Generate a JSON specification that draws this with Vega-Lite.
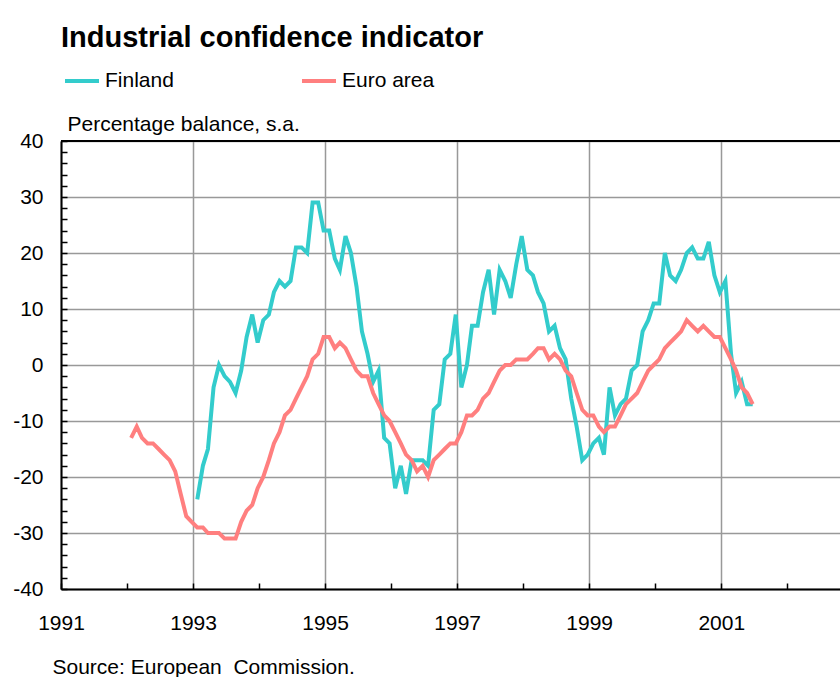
{
"$schema": "https://vega.github.io/schema/vega-lite/v6.json",
"width": 779, "height": 448,
"autosize": {"type": "none"},
"padding": {"left": 61, "top": 141, "right": 0, "bottom": 88},
"background": "white",
"config": {"view": {"stroke": null}, "font": "Liberation Sans"},
"title": {"text": "Industrial confidence indicator", "anchor": "start", "frame": "group", "fontSize": 29, "fontWeight": "bold", "font": "Liberation Sans", "color": "black", "baseline": "alphabetic", "offset": -14, "dx": 0},
"resolve": {"axis": {"y": "independent"}},
"data": {"values": [
{"d":"1993-01-24","s":"Finland","v":-24},{"d":"1993-02-24","s":"Finland","v":-18},{"d":"1993-03-24","s":"Finland","v":-15},{"d":"1993-04-24","s":"Finland","v":-4},{"d":"1993-05-24","s":"Finland","v":0},{"d":"1993-06-24","s":"Finland","v":-2},{"d":"1993-07-24","s":"Finland","v":-3},{"d":"1993-08-24","s":"Finland","v":-5},{"d":"1993-09-24","s":"Finland","v":-1},{"d":"1993-10-24","s":"Finland","v":5},{"d":"1993-11-24","s":"Finland","v":9},{"d":"1993-12-24","s":"Finland","v":4},
{"d":"1994-01-24","s":"Finland","v":8},{"d":"1994-02-24","s":"Finland","v":9},{"d":"1994-03-24","s":"Finland","v":13},{"d":"1994-04-24","s":"Finland","v":15},{"d":"1994-05-24","s":"Finland","v":14},{"d":"1994-06-24","s":"Finland","v":15},{"d":"1994-07-24","s":"Finland","v":21},{"d":"1994-08-24","s":"Finland","v":21},{"d":"1994-09-24","s":"Finland","v":20},{"d":"1994-10-24","s":"Finland","v":29},{"d":"1994-11-24","s":"Finland","v":29},{"d":"1994-12-24","s":"Finland","v":24},
{"d":"1995-01-24","s":"Finland","v":24},{"d":"1995-02-24","s":"Finland","v":19},{"d":"1995-03-24","s":"Finland","v":17},{"d":"1995-04-24","s":"Finland","v":23},{"d":"1995-05-24","s":"Finland","v":20},{"d":"1995-06-24","s":"Finland","v":14},{"d":"1995-07-24","s":"Finland","v":6},{"d":"1995-08-24","s":"Finland","v":2},{"d":"1995-09-24","s":"Finland","v":-3},{"d":"1995-10-24","s":"Finland","v":-1},{"d":"1995-11-24","s":"Finland","v":-13},{"d":"1995-12-24","s":"Finland","v":-14},
{"d":"1996-01-24","s":"Finland","v":-22},{"d":"1996-02-24","s":"Finland","v":-18},{"d":"1996-03-24","s":"Finland","v":-23},{"d":"1996-04-24","s":"Finland","v":-17},{"d":"1996-05-24","s":"Finland","v":-17},{"d":"1996-06-24","s":"Finland","v":-17},{"d":"1996-07-24","s":"Finland","v":-18},{"d":"1996-08-24","s":"Finland","v":-8},{"d":"1996-09-24","s":"Finland","v":-7},{"d":"1996-10-24","s":"Finland","v":1},{"d":"1996-11-24","s":"Finland","v":2},{"d":"1996-12-24","s":"Finland","v":9},
{"d":"1997-01-24","s":"Finland","v":-4},{"d":"1997-02-24","s":"Finland","v":0},{"d":"1997-03-24","s":"Finland","v":7},{"d":"1997-04-24","s":"Finland","v":7},{"d":"1997-05-24","s":"Finland","v":13},{"d":"1997-06-24","s":"Finland","v":17},{"d":"1997-07-24","s":"Finland","v":9},{"d":"1997-08-24","s":"Finland","v":17},{"d":"1997-09-24","s":"Finland","v":15},{"d":"1997-10-24","s":"Finland","v":12},{"d":"1997-11-24","s":"Finland","v":18},{"d":"1997-12-24","s":"Finland","v":23},
{"d":"1998-01-24","s":"Finland","v":17},{"d":"1998-02-24","s":"Finland","v":16},{"d":"1998-03-24","s":"Finland","v":13},{"d":"1998-04-24","s":"Finland","v":11},{"d":"1998-05-24","s":"Finland","v":6},{"d":"1998-06-24","s":"Finland","v":7},{"d":"1998-07-24","s":"Finland","v":3},{"d":"1998-08-24","s":"Finland","v":1},{"d":"1998-09-24","s":"Finland","v":-6},{"d":"1998-10-24","s":"Finland","v":-11},{"d":"1998-11-24","s":"Finland","v":-17},{"d":"1998-12-24","s":"Finland","v":-16},
{"d":"1999-01-24","s":"Finland","v":-14},{"d":"1999-02-24","s":"Finland","v":-13},{"d":"1999-03-24","s":"Finland","v":-16},{"d":"1999-04-24","s":"Finland","v":-4},{"d":"1999-05-24","s":"Finland","v":-9},{"d":"1999-06-24","s":"Finland","v":-7},{"d":"1999-07-24","s":"Finland","v":-6},{"d":"1999-08-24","s":"Finland","v":-1},{"d":"1999-09-24","s":"Finland","v":0},{"d":"1999-10-24","s":"Finland","v":6},{"d":"1999-11-24","s":"Finland","v":8},{"d":"1999-12-24","s":"Finland","v":11},
{"d":"2000-01-24","s":"Finland","v":11},{"d":"2000-02-24","s":"Finland","v":20},{"d":"2000-03-24","s":"Finland","v":16},{"d":"2000-04-24","s":"Finland","v":15},{"d":"2000-05-24","s":"Finland","v":17},{"d":"2000-06-24","s":"Finland","v":20},{"d":"2000-07-24","s":"Finland","v":21},{"d":"2000-08-24","s":"Finland","v":19},{"d":"2000-09-24","s":"Finland","v":19},{"d":"2000-10-24","s":"Finland","v":22},{"d":"2000-11-24","s":"Finland","v":16},{"d":"2000-12-24","s":"Finland","v":13},
{"d":"2001-01-24","s":"Finland","v":15},{"d":"2001-02-24","s":"Finland","v":2},{"d":"2001-03-24","s":"Finland","v":-5},{"d":"2001-04-24","s":"Finland","v":-3},{"d":"2001-05-24","s":"Finland","v":-7},{"d":"2001-06-24","s":"Finland","v":-7},
{"d":"1992-01-24","s":"Euro area","v":-13},{"d":"1992-02-24","s":"Euro area","v":-11},{"d":"1992-03-24","s":"Euro area","v":-13},{"d":"1992-04-24","s":"Euro area","v":-14},{"d":"1992-05-24","s":"Euro area","v":-14},{"d":"1992-06-24","s":"Euro area","v":-15},{"d":"1992-07-24","s":"Euro area","v":-16},{"d":"1992-08-24","s":"Euro area","v":-17},{"d":"1992-09-24","s":"Euro area","v":-19},{"d":"1992-10-24","s":"Euro area","v":-23},{"d":"1992-11-24","s":"Euro area","v":-27},{"d":"1992-12-24","s":"Euro area","v":-28},
{"d":"1993-01-24","s":"Euro area","v":-29},{"d":"1993-02-24","s":"Euro area","v":-29},{"d":"1993-03-24","s":"Euro area","v":-30},{"d":"1993-04-24","s":"Euro area","v":-30},{"d":"1993-05-24","s":"Euro area","v":-30},{"d":"1993-06-24","s":"Euro area","v":-31},{"d":"1993-07-24","s":"Euro area","v":-31},{"d":"1993-08-24","s":"Euro area","v":-31},{"d":"1993-09-24","s":"Euro area","v":-28},{"d":"1993-10-24","s":"Euro area","v":-26},{"d":"1993-11-24","s":"Euro area","v":-25},{"d":"1993-12-24","s":"Euro area","v":-22},
{"d":"1994-01-24","s":"Euro area","v":-20},{"d":"1994-02-24","s":"Euro area","v":-17},{"d":"1994-03-24","s":"Euro area","v":-14},{"d":"1994-04-24","s":"Euro area","v":-12},{"d":"1994-05-24","s":"Euro area","v":-9},{"d":"1994-06-24","s":"Euro area","v":-8},{"d":"1994-07-24","s":"Euro area","v":-6},{"d":"1994-08-24","s":"Euro area","v":-4},{"d":"1994-09-24","s":"Euro area","v":-2},{"d":"1994-10-24","s":"Euro area","v":1},{"d":"1994-11-24","s":"Euro area","v":2},{"d":"1994-12-24","s":"Euro area","v":5},
{"d":"1995-01-24","s":"Euro area","v":5},{"d":"1995-02-24","s":"Euro area","v":3},{"d":"1995-03-24","s":"Euro area","v":4},{"d":"1995-04-24","s":"Euro area","v":3},{"d":"1995-05-24","s":"Euro area","v":1},{"d":"1995-06-24","s":"Euro area","v":-1},{"d":"1995-07-24","s":"Euro area","v":-2},{"d":"1995-08-24","s":"Euro area","v":-2},{"d":"1995-09-24","s":"Euro area","v":-5},{"d":"1995-10-24","s":"Euro area","v":-7},{"d":"1995-11-24","s":"Euro area","v":-9},{"d":"1995-12-24","s":"Euro area","v":-10},
{"d":"1996-01-24","s":"Euro area","v":-12},{"d":"1996-02-24","s":"Euro area","v":-14},{"d":"1996-03-24","s":"Euro area","v":-16},{"d":"1996-04-24","s":"Euro area","v":-17},{"d":"1996-05-24","s":"Euro area","v":-19},{"d":"1996-06-24","s":"Euro area","v":-18},{"d":"1996-07-24","s":"Euro area","v":-20},{"d":"1996-08-24","s":"Euro area","v":-17},{"d":"1996-09-24","s":"Euro area","v":-16},{"d":"1996-10-24","s":"Euro area","v":-15},{"d":"1996-11-24","s":"Euro area","v":-14},{"d":"1996-12-24","s":"Euro area","v":-14},
{"d":"1997-01-24","s":"Euro area","v":-12},{"d":"1997-02-24","s":"Euro area","v":-9},{"d":"1997-03-24","s":"Euro area","v":-9},{"d":"1997-04-24","s":"Euro area","v":-8},{"d":"1997-05-24","s":"Euro area","v":-6},{"d":"1997-06-24","s":"Euro area","v":-5},{"d":"1997-07-24","s":"Euro area","v":-3},{"d":"1997-08-24","s":"Euro area","v":-1},{"d":"1997-09-24","s":"Euro area","v":0},{"d":"1997-10-24","s":"Euro area","v":0},{"d":"1997-11-24","s":"Euro area","v":1},{"d":"1997-12-24","s":"Euro area","v":1},
{"d":"1998-01-24","s":"Euro area","v":1},{"d":"1998-02-24","s":"Euro area","v":2},{"d":"1998-03-24","s":"Euro area","v":3},{"d":"1998-04-24","s":"Euro area","v":3},{"d":"1998-05-24","s":"Euro area","v":1},{"d":"1998-06-24","s":"Euro area","v":2},{"d":"1998-07-24","s":"Euro area","v":1},{"d":"1998-08-24","s":"Euro area","v":-1},{"d":"1998-09-24","s":"Euro area","v":-2},{"d":"1998-10-24","s":"Euro area","v":-5},{"d":"1998-11-24","s":"Euro area","v":-8},{"d":"1998-12-24","s":"Euro area","v":-9},
{"d":"1999-01-24","s":"Euro area","v":-9},{"d":"1999-02-24","s":"Euro area","v":-11},{"d":"1999-03-24","s":"Euro area","v":-12},{"d":"1999-04-24","s":"Euro area","v":-11},{"d":"1999-05-24","s":"Euro area","v":-11},{"d":"1999-06-24","s":"Euro area","v":-9},{"d":"1999-07-24","s":"Euro area","v":-7},{"d":"1999-08-24","s":"Euro area","v":-6},{"d":"1999-09-24","s":"Euro area","v":-5},{"d":"1999-10-24","s":"Euro area","v":-3},{"d":"1999-11-24","s":"Euro area","v":-1},{"d":"1999-12-24","s":"Euro area","v":0},
{"d":"2000-01-24","s":"Euro area","v":1},{"d":"2000-02-24","s":"Euro area","v":3},{"d":"2000-03-24","s":"Euro area","v":4},{"d":"2000-04-24","s":"Euro area","v":5},{"d":"2000-05-24","s":"Euro area","v":6},{"d":"2000-06-24","s":"Euro area","v":8},{"d":"2000-07-24","s":"Euro area","v":7},{"d":"2000-08-24","s":"Euro area","v":6},{"d":"2000-09-24","s":"Euro area","v":7},{"d":"2000-10-24","s":"Euro area","v":6},{"d":"2000-11-24","s":"Euro area","v":5},{"d":"2000-12-24","s":"Euro area","v":5},
{"d":"2001-01-24","s":"Euro area","v":3},{"d":"2001-02-24","s":"Euro area","v":1},{"d":"2001-03-24","s":"Euro area","v":-1},{"d":"2001-04-24","s":"Euro area","v":-4},{"d":"2001-05-24","s":"Euro area","v":-5},{"d":"2001-06-24","s":"Euro area","v":-7}
]},
"layer": [
{"mark": {"type": "line", "strokeWidth": 4},
 "encoding": {
  "x": {"field": "d", "type": "temporal",
    "scale": {"type": "utc", "domain": [{"year": 1991, "month": 1, "date": 1, "utc": true}, {"year": 2002, "month": 10, "date": 20, "utc": true}]},
    "axis": {"title": "Source: European \u00a0Commission.", "titleFontSize": 21, "titleFontWeight": "normal", "titleColor": "black", "titleAnchor": "start", "titleAlign": "left", "titleBaseline": "alphabetic", "titleX": -9, "titleY": 84,
      "tickCount": {"interval": "year", "step": 1},
      "labelExpr": "utcyear(datum.value) % 2 == 1 ? utcFormat(datum.value, '%Y') : ''",
      "labelFlush": false, "labelOverlap": false, "labelBound": false, "labelFontSize": 21, "labelColor": "black", "labelDx": 17, "labelAlign": "center", "labelBaseline": "alphabetic", "labelPadding": 46,
      "tickSize": -6, "tickColor": "black", "tickWidth": 1.5, "domainColor": "black", "domainWidth": 2,
      "grid": true, "gridColor": "#999999", "gridWidth": 1.5,
      "gridOpacity": {"condition": {"test": "utcyear(datum.value) % 2 == 1", "value": 1}, "value": 0}}},
  "y": {"field": "v", "type": "quantitative",
    "scale": {"domain": [-40, 40], "nice": false, "zero": false},
    "axis": {"title": "Percentage balance, s.a.", "titleAngle": 0, "titleAlign": "left", "titleBaseline": "alphabetic", "titleX": 6, "titleY": -11, "titleFontSize": 21, "titleFontWeight": "normal", "titleColor": "black",
      "values": [-40,-38,-36,-34,-32,-30,-28,-26,-24,-22,-20,-18,-16,-14,-12,-10,-8,-6,-4,-2,0,2,4,6,8,10,12,14,16,18,20,22,24,26,28,30,32,34,36,38,40],
      "labelExpr": "datum.value % 10 == 0 ? '' + datum.value : ''",
      "labelFontSize": 21, "labelColor": "black", "labelPadding": 24, "labelOverlap": false, "labelFlush": false, "labelBound": false,
      "tickSize": -6, "tickColor": "black", "tickWidth": 1.5, "domainColor": "black", "domainWidth": 2,
      "grid": true, "gridColor": "#999999", "gridWidth": 1.5,
      "gridOpacity": {"condition": {"test": "datum.value % 10 == 0", "value": 1}, "value": 0}}},
  "color": {"field": "s", "type": "nominal",
    "scale": {"domain": ["Finland", "Euro area"], "range": ["#33CCCC", "#FF7F7F"]},
    "legend": {"orient": "none", "legendX": 2, "legendY": -79, "direction": "horizontal", "title": null,
      "symbolType": "stroke", "symbolSize": 1156, "symbolStrokeWidth": 4, "labelFontSize": 21, "labelColor": "black", "labelOffset": 4, "columnPadding": 120}}
 }},
{"data": {"values": [{}]}, "mark": {"type": "rule", "color": "black", "strokeWidth": 2}, "encoding": {"y": {"datum": 40, "type": "quantitative", "axis": null}}}
]
}
